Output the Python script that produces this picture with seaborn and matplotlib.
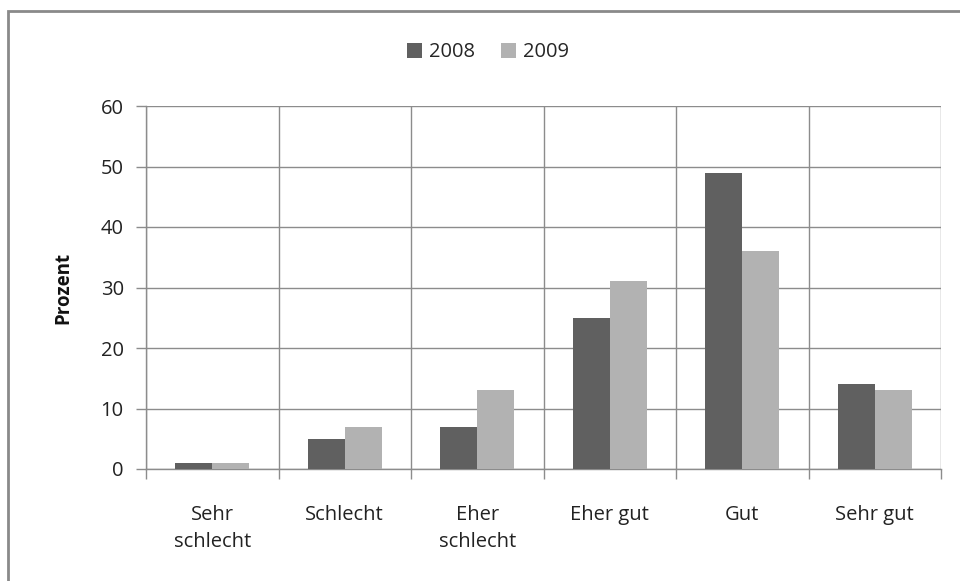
import matplotlib
matplotlib.use("Agg")
import matplotlib.pyplot as plt
import pandas as pd
import seaborn as sns
from matplotlib.patches import Rectangle

# data
categories = ["Sehr\nschlecht", "Schlecht", "Eher\nschlecht", "Eher gut", "Gut", "Sehr gut"]
years = ["2008", "2009"]
values_2008 = [1, 5, 7, 25, 49, 14]
values_2009 = [1, 7, 13, 31, 36, 13]

df = pd.DataFrame({
    "Kategorie": categories * 2,
    "Jahr": [years[0]] * len(categories) + [years[1]] * len(categories),
    "Prozent": values_2008 + values_2009,
})

sns.set_theme(style="white")
plt.rcParams["font.family"] = ["Open Sans", "DejaVu Sans"]

fig = plt.figure(figsize=(9.6, 5.81), dpi=100)
ax = fig.add_axes([146 / 960, 1 - 469 / 581, (941 - 146) / 960, (469 - 106) / 581])

grid_col = "#8c8c8c"
sns.barplot(data=df, x="Kategorie", y="Prozent", hue="Jahr",
            palette=["#606060", "#b2b2b2"], width=0.56, gap=0,
            edgecolor="none", ax=ax, zorder=3)

ax.set_xlim(-0.5, len(categories) - 0.5)
ax.set_ylim(0, 60)
ax.set_yticks(range(0, 61, 10))

# vertical grid at category boundaries
ax.set_xticks([i - 0.5 for i in range(len(categories) + 1)], minor=True)
ax.tick_params(axis="x", which="major", bottom=True, length=0, pad=26,
               labelsize=14.5, colors="#222222")
ax.tick_params(axis="x", which="minor", bottom=True, length=7, direction="out",
               color=grid_col, width=1)
ax.tick_params(axis="y", left=True, length=7, direction="out", color=grid_col, width=1,
               labelsize=14.5, labelcolor="#222222", pad=9)
for lbl in ax.get_xticklabels():
    lbl.set_linespacing(1.45)
ax.grid(True, axis="y", color=grid_col, linewidth=1, zorder=0)
ax.grid(True, axis="x", which="minor", color=grid_col, linewidth=1, zorder=0)
ax.set_axisbelow(True)

for s in ["top", "right"]:
    ax.spines[s].set_visible(False)
for s in ["left", "bottom"]:
    ax.spines[s].set_color(grid_col)
    ax.spines[s].set_linewidth(1)

ax.set_xlabel("")
ax.set_ylabel("Prozent", fontsize=13.5, fontweight="bold", labelpad=20, color="#111111")

ax.legend(loc="upper center", bbox_to_anchor=(0.43, 1.225), ncol=2, frameon=False,
          fontsize=14.5, handlelength=0.75, handleheight=0.75, handletextpad=0.35,
          columnspacing=1.3)

# outer chart frame
fig.patches.append(Rectangle((8 / 960, -0.1), 1.1, 1 - 11 / 581 + 0.1,
                             transform=fig.transFigure, fill=False,
                             edgecolor="#8a8a8a", linewidth=2))

fig.savefig("out.png", dpi=100)
